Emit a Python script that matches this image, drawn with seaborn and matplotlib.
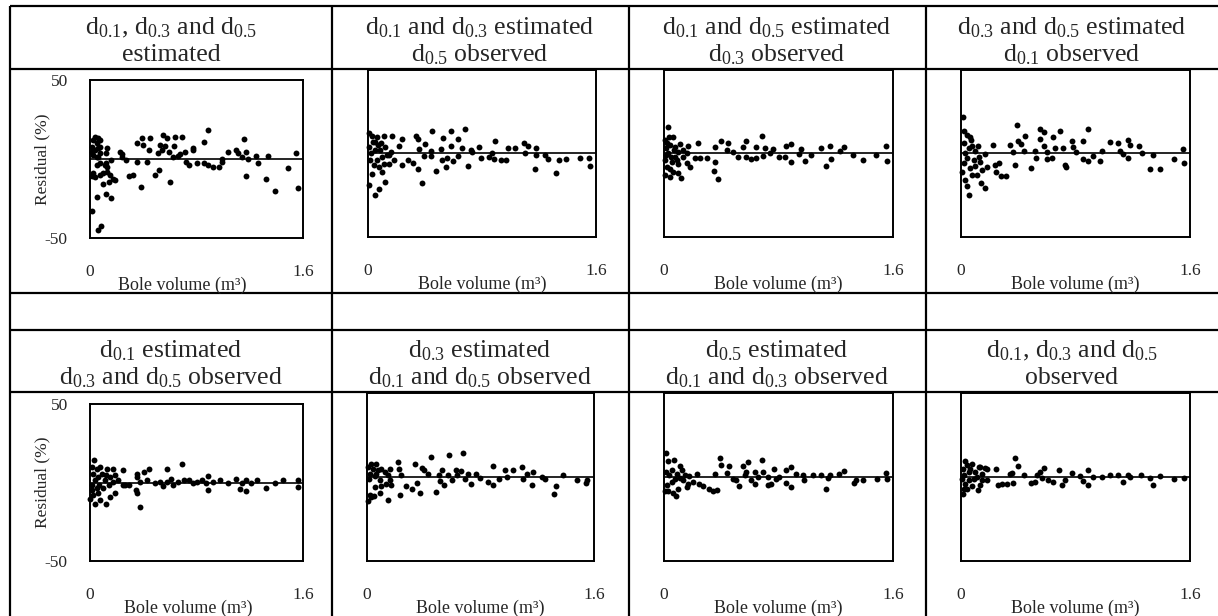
import numpy as np
import pandas as pd
import matplotlib
matplotlib.use("Agg")
import matplotlib.pyplot as plt
import seaborn as sns

# ---------------------------------------------------------------------------
# Data: bole volume (m3) vs residual (%)
# ---------------------------------------------------------------------------
vol_1 = [0.89, 0.86, 1.16, 0.55, 0.39, 0.45, 0.69, 0.64, 0.575, 0.35,
         0.40, 0.525, 0.56, 0.63, 0.44, 0.51, 0.54, 0.59, 0.675, 0.71,
         0.77, 0.775, 0.66, 0.625, 0.72, 0.74, 0.80, 0.86, 0.89, 0.925,
         0.97, 0.99, 0.99, 1.04, 1.10, 1.11, 1.14, 1.175, 1.19, 1.175,
         1.245, 1.26, 1.34, 1.32, 1.39, 1.49, 1.55, 1.56, 0.60, 0.49,
         0.52, 0.38, 0.29, 0.325, 0.24, 0.27, 0.35, 0.425, 0.225, 0.24,
         0.16, 0.175, 0.19, 0.16, 0.12, 0.05, 0.012, 0.057, 0.08, 0.10,
         0.14, 0.15, 0.125, 0.11, 0.125, 0.12, 0.075, 0.05, 0.075, 0.04,
         0.012, 0.025, 0.10, 0.12, 0.13, 0.075, 0.037, 0.06, 0.025, 0.05,
         0.012, 0.037, 0.062, 0.075, 0.025, 0.05, 0.012, 0.075, 0.062]
res_1 = [18.3, 11.0, 12.4, 15.0, 13.5, 13.0, 14.0, 13.7, 13.0, 10.0,
         9.0, 9.0, 8.0, 8.0, 6.0, 3.6, 5.7, 4.6, 3.0, 4.6,
         6.7, 5.7, 1.9, 1.5, -2.0, -3.8, -2.7, -2.7, -3.8, -5.3,
         -5.3, -1.7, 0.0, 4.6, 5.7, 3.6, 1.5, 4.6, 0.0, -10.5,
         2.1, -2.7, 1.9, -12.8, -20.0, -5.9, 3.6, -18.5, -14.3, -10.0,
         -7.0, -17.5, -10.7, -10.0, 1.5, -0.6, -2.0, -1.7, 4.6, 3.0,
         -0.6, -12.6, -13.3, -24.8, -22.0, -23.8, -32.6, -44.8, -42.3, -16.0,
         -14.3, -10.0, -8.0, -3.8, -4.8, -2.7, -2.7, -3.8, -10.0, -11.2,
         -10.7, -9.0, -9.0, 4.0, 6.7, 12.0, 14.0, 13.0, 12.0, 10.0,
         7.8, 5.7, 6.7, 3.6, 2.5, 1.5, 4.6, 7.8, 1.5]

vol_2 = [0.68, 0.58, 0.45, 0.525, 0.635, 0.34, 0.35, 0.24, 0.17, 0.11,
         0.06, 0.01, 0.03, 0.05, 0.09, 0.12, 0.16, 0.22, 0.40, 0.355,
         0.44, 0.51, 0.58, 0.66, 0.72, 0.78, 0.87, 0.89, 0.98, 1.03,
         1.095, 1.125, 1.18, 1.10, 1.18, 1.24, 1.26, 1.34, 1.39, 1.49,
         1.55, 1.56, 1.32, 1.17, 0.97, 0.93, 0.885, 0.85, 0.795, 0.73,
         0.705, 0.635, 0.595, 0.555, 0.52, 0.55, 0.48, 0.44, 0.39, 0.35,
         0.315, 0.28, 0.24, 0.38, 0.18, 0.145, 0.10, 0.12, 0.08, 0.05,
         0.005, 0.03, 0.04, 0.015, 0.06, 0.10, 0.13, 0.02, 0.05, 0.01,
         0.085, 0.145, 0.11, 0.075, 0.035, 0.07]
res_2 = [14.6, 13.4, 13.4, 9.0, 8.4, 10.4, 8.6, 8.6, 10.6, 10.4,
         9.6, 12.0, 10.4, 7.0, 6.0, 4.0, 1.0, 4.6, 5.4, 2.6,
         1.4, 2.4, 4.4, 3.0, 2.0, 3.6, 0.0, 7.6, 3.4, 3.4,
         6.4, 4.4, 3.4, 0.0, -0.6, -0.6, -3.4, -3.6, -3.0, -2.4,
         -2.6, -7.2, -11.8, -9.4, -3.6, -3.6, -3.4, -2.0, -2.6, 0.8,
         -7.2, -1.4, -4.4, -2.4, -3.6, -8.0, -10.2, -1.6, -1.4, -9.4,
         -5.6, -3.6, -7.0, -17.8, -3.6, -6.4, -11.0, -17.0, -21.0, -25.0,
         -19.0, -12.0, -7.0, -4.0, -3.6, -2.0, -0.6, 0.0, 2.0, 4.0,
         2.0, -1.0, -6.0, -8.0, 7.0, 5.0]

vol_3 = [0.025, 0.007, 0.06, 0.11, 0.17, 0.235, 0.355, 0.40, 0.45, 0.44,
         0.55, 0.575, 0.685, 0.645, 0.705, 0.76, 0.855, 0.89, 0.96, 1.10,
         1.16, 1.26, 1.32, 1.39, 1.48, 1.55, 1.555, 1.135, 1.165, 1.23,
         1.03, 0.985, 0.94, 0.885, 0.845, 0.80, 0.74, 0.69, 0.645, 0.61,
         0.575, 0.52, 0.485, 0.38, 0.35, 0.355, 0.30, 0.25, 0.215, 0.18,
         0.16, 0.12, 0.10, 0.065, 0.04, 0.007, 0.02, 0.055, 0.09, 0.135,
         0.03, 0.07, 0.015, 0.10, 0.04, 0.13, 0.077, 0.007, 0.16, 0.02,
         0.05, 0.035, 0.08, 0.045, 0.10, 0.015]
res_3 = [15.6, 8.2, 9.6, 5.8, 4.6, 6.2, 3.8, 7.2, 6.2, 2.2,
         3.8, 7.2, 10.2, 3.6, 3.2, 2.6, 4.2, 5.8, 2.6, 3.2,
         4.2, 3.6, -0.8, -3.8, -0.8, 4.2, -4.4, -7.4, -3.4, 1.2,
         -0.8, -4.4, -0.4, -4.8, -1.8, -2.2, 0.2, -1.4, -2.8, -3.2,
         -2.2, -1.8, 0.6, -15.2, -10.4, -4.8, -2.8, -2.4, -2.8, -8.2,
         -5.8, -14.8, -11.8, -10.8, -13.8, -12.8, -7.8, -4.8, -3.8, -1.8,
         0.2, 2.2, 3.2, 0.6, 5.2, 2.2, -1.8, -3.8, 0.2, 6.0,
         -2.0, 10.0, 4.0, -9.0, -6.0, -1.0]

vol_4 = [0.014, 0.39, 0.555, 0.58, 0.69, 0.89, 0.45, 0.40, 0.55, 0.645,
         0.775, 0.855, 1.04, 1.10, 1.165, 1.18, 1.245, 1.55, 0.345, 0.42,
         0.58, 0.66, 0.715, 0.785, 0.985, 0.44, 0.36, 0.52, 0.60, 0.635,
         0.60, 0.525, 0.80, 0.925, 0.855, 0.89, 0.97, 1.11, 1.135, 1.17,
         1.265, 1.34, 1.49, 1.555, 1.32, 1.39, 0.725, 0.735, 0.49, 0.38,
         0.315, 0.28, 0.245, 0.24, 0.265, 0.225, 0.17, 0.12, 0.18, 0.145,
         0.17, 0.14, 0.11, 0.077, 0.053, 0.042, 0.026, 0.01, 0.019, 0.042,
         0.088, 0.123, 0.03, 0.053, 0.019, 0.07, 0.042, 0.06, 0.023, 0.077,
         0.10, 0.135, 0.10, 0.065]
res_4 = [21.8, 16.8, 14.8, 12.8, 13.6, 14.6, 10.6, 7.6, 8.6, 9.6,
         7.6, 7.6, 6.6, 6.2, 8.2, 4.8, 4.2, 2.8, 4.8, 5.6,
         4.6, 3.2, 3.2, 3.6, 1.6, 1.6, 0.6, 1.6, 0.6, -2.4,
         -3.2, -2.8, 0.6, -1.2, -3.2, -4.4, -4.4, 1.2, -0.4, -2.8,
         0.2, -0.8, -3.4, -5.8, -9.2, -9.2, -6.8, -8.2, -8.4, -6.8,
         -13.2, -13.2, -11.2, -6.8, -5.4, 4.8, -0.4, 4.6, -7.8, -9.8,
         -20.8, -17.8, -12.8, -12.8, -24.8, -19.2, -15.8, -10.8, -5.8, -2.8,
         -3.8, -1.8, 0.2, 3.2, 6.2, 8.2, 11.2, 9.8, 13.2, 4.2,
         1.2, -4.8, -7.4, -8.8]

vol_5 = [0.03, 0.69, 0.58, 0.245, 0.35, 0.405, 0.35, 0.44, 0.375, 0.425,
         0.49, 0.525, 0.55, 0.575, 0.61, 0.625, 0.66, 0.705, 0.74, 0.77,
         0.80, 0.84, 0.89, 0.875, 0.89, 0.925, 0.975, 1.04, 1.10, 1.14,
         1.175, 1.125, 1.17, 1.21, 1.255, 1.325, 1.39, 1.45, 1.56, 1.56,
         0.375, 0.35, 0.345, 0.29, 0.19, 0.245, 0.12, 0.04, 0.075, 0.15,
         0.003, 0.025, 0.06, 0.10, 0.14, 0.175, 0.19, 0.17, 0.125, 0.075,
         0.05, 0.012, 0.025, 0.06, 0.09, 0.04, 0.012, 0.07, 0.11, 0.05,
         0.012, 0.12, 0.15, 0.21, 0.26]
res_5 = [14.2, 11.7, 8.5, 7.9, 5.7, 6.8, 3.6, 8.9, 0.4, 1.5,
         -0.6, 0.4, -2.3, 0.4, 2.5, -1.7, 0.4, 1.5, 1.9, -0.2,
         0.4, 1.5, 4.2, -0.2, -4.5, 0.4, 1.5, 0.0, 2.1, -0.2,
         1.5, -4.2, -5.5, -0.6, 1.5, -3.2, -0.6, 1.5, 1.5, -2.8,
         -15.5, -6.6, -4.9, -1.7, -6.4, -1.3, -14.0, -13.8, -11.3, -9.1,
         -10.8, -8.1, -6.6, -3.8, -1.7, 0.4, 4.7, 8.5, 8.9, 10.0,
         8.9, 10.0, 5.7, 3.6, 5.7, 1.5, -1.7, -1.7, 1.5, -3.8,
         -4.9, 4.7, 3.6, 1.5, -1.7]

vol_6 = [0.68, 0.58, 0.45, 0.22, 0.335, 0.39, 0.40, 0.53, 0.625, 0.665,
         0.885, 0.975, 1.03, 1.09, 1.17, 1.13, 1.385, 1.48, 1.55, 1.545,
         1.33, 1.315, 1.255, 1.235, 1.165, 1.10, 0.985, 0.93, 0.885, 0.855,
         0.795, 0.77, 0.715, 0.735, 0.69, 0.635, 0.60, 0.57, 0.54, 0.515,
         0.51, 0.485, 0.43, 0.375, 0.35, 0.315, 0.275, 0.24, 0.235, 0.225,
         0.165, 0.17, 0.145, 0.09, 0.047, 0.03, 0.007, 0.02, 0.055, 0.10,
         0.135, 0.09, 0.055, 0.02, 0.007, 0.03, 0.06, 0.10, 0.125, 0.15,
         0.16, 0.08, 0.04, 0.015, 0.065]
res_6 = [14.3, 13.3, 11.9, 8.9, 7.9, 5.6, 4.4, 4.4, 4.4, 3.6,
         6.3, 4.4, 4.0, 6.0, 3.0, 2.0, 1.0, -1.6, -1.6, -3.6,
         -5.6, -10.3, -1.0, 0.0, -5.0, -1.0, 0.0, -1.0, -4.6, -3.0,
         -0.4, 2.0, 1.6, -4.4, -1.0, 1.0, -2.0, 1.0, -5.0, -2.4,
         1.0, -8.9, 2.0, -9.5, -3.6, -6.9, -5.6, 1.0, -10.9, 5.0,
         5.0, -5.0, -13.5, -9.5, -11.5, -11.9, -14.5, -10.9, -6.0, -5.6,
         -4.0, -2.0, 0.4, 2.0, 6.0, 7.5, 8.0, 5.0, 3.0, 1.0,
         -2.0, 4.0, 5.0, -1.0, 2.0]

vol_7 = [0.012, 0.03, 0.07, 0.11, 0.39, 0.40, 0.455, 0.55, 0.585, 0.685,
         0.77, 0.89, 0.855, 1.26, 1.55, 0.23, 0.355, 0.44, 0.575, 0.635,
         0.69, 0.565, 0.66, 0.73, 0.80, 0.925, 0.97, 1.04, 1.10, 1.16,
         1.225, 1.145, 1.34, 1.39, 1.485, 1.555, 1.33, 1.135, 0.98, 0.885,
         0.855, 0.78, 0.73, 0.745, 0.635, 0.61, 0.525, 0.485, 0.505, 0.37,
         0.345, 0.315, 0.275, 0.245, 0.20, 0.17, 0.16, 0.135, 0.095, 0.085,
         0.06, 0.03, 0.007, 0.02, 0.055, 0.077, 0.037, 0.014, 0.053, 0.088,
         0.123, 0.177, 0.147, 0.11]
res_7 = [14.3, 9.3, 10.3, 6.3, 11.3, 6.9, 6.3, 6.3, 8.9, 10.3,
         4.6, 6.0, 4.0, 3.4, 2.4, 2.0, 2.0, 2.6, 3.0, 3.0,
         3.0, 1.0, 0.0, 0.0, 0.0, 1.6, 1.0, 1.0, 1.0, 1.0,
         2.0, -0.4, -2.0, -2.0, -1.0, -1.0, -3.4, -7.0, -2.0, -6.0,
         -3.6, -1.0, -4.6, -4.4, -4.0, -2.0, -5.4, -1.0, -2.0, -8.0,
         -8.3, -7.0, -5.6, -4.4, -3.0, -4.0, -6.0, -2.0, -7.0, -11.5,
         -9.5, -8.3, -8.3, -5.0, -3.0, -1.0, 1.0, 3.0, 4.0, 2.0,
         4.0, 0.4, 1.0, -0.4]

vol_8 = [0.03, 0.077, 0.123, 0.38, 0.40, 0.355, 0.345, 0.245, 0.17, 0.44,
         0.58, 0.55, 0.685, 0.775, 0.89, 0.83, 0.925, 0.985, 1.04, 1.10,
         1.17, 1.18, 1.26, 1.32, 1.39, 1.485, 1.555, 1.34, 1.13, 0.885,
         0.85, 0.705, 0.73, 0.645, 0.61, 0.565, 0.52, 0.49, 0.53, 0.36,
         0.32, 0.285, 0.26, 0.185, 0.15, 0.12, 0.135, 0.077, 0.042, 0.012,
         0.019, 0.03, 0.053, 0.088, 0.007, 0.023, 0.053, 0.10, 0.147, 0.18,
         0.065, 0.014, 0.11, 0.042, 0.135]
res_8 = [9.3, 7.9, 6.0, 11.5, 6.3, 2.4, 1.6, 5.0, 5.4, 1.0,
         5.4, 3.0, 4.0, 2.6, 4.0, 0.4, 0.0, 0.0, 1.0, 1.0,
         1.0, 0.0, 1.0, -0.4, 0.6, -1.0, -0.6, -4.6, -3.0, -5.0,
         -2.4, -5.0, -2.0, -3.0, -1.6, -0.4, -3.0, -3.6, 1.0, -3.6,
         -4.4, -4.4, -4.6, -2.0, -2.0, -8.0, -5.0, -5.6, -7.0, -10.0,
         -7.0, -4.0, -2.0, -1.0, -1.0, 1.0, 3.0, 3.0, 2.0, 5.0,
         5.0, 5.0, 0.0, 7.0, 6.0]

# header of each panel: (first line, second line)
headers = [
    ("d$_{\\mathrm{0.1}}$, d$_{\\mathrm{0.3}}$ and d$_{\\mathrm{0.5}}$", "estimated"),
    ("d$_{\\mathrm{0.1}}$ and d$_{\\mathrm{0.3}}$ estimated", "d$_{\\mathrm{0.5}}$ observed"),
    ("d$_{\\mathrm{0.1}}$ and d$_{\\mathrm{0.5}}$ estimated", "d$_{\\mathrm{0.3}}$ observed"),
    ("d$_{\\mathrm{0.3}}$ and d$_{\\mathrm{0.5}}$ estimated", "d$_{\\mathrm{0.1}}$ observed"),
    ("d$_{\\mathrm{0.1}}$ estimated", "d$_{\\mathrm{0.3}}$ and d$_{\\mathrm{0.5}}$ observed"),
    ("d$_{\\mathrm{0.3}}$ estimated", "d$_{\\mathrm{0.1}}$ and d$_{\\mathrm{0.5}}$ observed"),
    ("d$_{\\mathrm{0.5}}$ estimated", "d$_{\\mathrm{0.1}}$ and d$_{\\mathrm{0.3}}$ observed"),
    ("d$_{\\mathrm{0.1}}$, d$_{\\mathrm{0.3}}$ and d$_{\\mathrm{0.5}}$", "observed"),
]

xticks = [0, 1.6]
xtick_labels = ["0", "1.6"]
yticks = [-50, 50]
ytick_labels = ["-50", "50"]

vols = [vol_1, vol_2, vol_3, vol_4, vol_5, vol_6, vol_7, vol_8]
ress = [res_1, res_2, res_3, res_4, res_5, res_6, res_7, res_8]
df = pd.concat(
    [pd.DataFrame({"panel": k, "vol": v, "res": r})
     for k, (v, r) in enumerate(zip(vols, ress))],
    ignore_index=True,
)

# ---------------------------------------------------------------------------
# Style
# ---------------------------------------------------------------------------
sns.set_style("white")
plt.rcParams["font.family"] = ["Liberation Serif", "DejaVu Serif"]
plt.rcParams["mathtext.fontset"] = "custom"
plt.rcParams["mathtext.rm"] = "Liberation Serif"
plt.rcParams["mathtext.it"] = "Liberation Serif:italic"

W, H = 1218, 616
fig = plt.figure(figsize=(W / 100, H / 100), dpi=100)
fig.patch.set_facecolor("white")

# table frame drawn in pixel coordinates
tab = fig.add_axes([0, 0, 1, 1], zorder=0)
tab.set_xlim(0, W)
tab.set_ylim(H, 0)
tab.axis("off")
tab.hlines([6, 69, 293, 330, 392], 10, W, color="black", lw=1.6)
tab.vlines([10, 332, 629, 926], 6, H, color="black", lw=1.6)

col_centers = [171, 480, 777, 1072]
header_y = [(28, 55), (351, 378)]

# panel boxes (left, top, right, bottom) in pixels
boxes = [(90, 80, 303, 238), (368, 70, 596, 237), (664, 70, 893, 237), (961, 70, 1190, 237),
         (90, 404, 303, 561), (367, 393, 594, 561), (664, 393, 893, 561), (961, 393, 1190, 561)]

for k in range(8):
    row, col = divmod(k, 4)
    l, t, r, b = boxes[k]
    ax = fig.add_axes([l / W, 1 - b / H, (r - l) / W, (b - t) / H], zorder=1)
    ax.set_facecolor("none")

    sns.scatterplot(data=df[df["panel"] == k], x="vol", y="res", ax=ax,
                    color="black", s=18, linewidth=0, clip_on=False, legend=False)
    ax.axhline(0, color="black", lw=1.2, zorder=1)

    ax.set_xlim(0, 1.6)
    ax.set_ylim(-50, 50)
    for sp in ax.spines.values():
        sp.set_visible(True)
        sp.set_color("black")
        sp.set_linewidth(1.4)

    ax.set_xticks(xticks)
    ax.set_xticklabels(xtick_labels)
    ax.tick_params(axis="x", length=0, pad=19, labelsize=12.5)
    ax.set_xlabel("Bole volume (m³)", fontsize=13)
    xl = (182 - l) / (r - l) if col == 0 and row == 0 else ((188 - l) / (r - l) if col == 0 else 0.5)
    ax.xaxis.set_label_coords(xl, -(39 / (b - t)))

    if col == 0:
        ax.set_yticks(yticks)
        ax.set_yticklabels(ytick_labels)
        ax.tick_params(axis="y", length=0, pad=16, labelsize=12.5)
        ax.set_ylabel("Residual (%)", fontsize=12.5)
        ax.yaxis.set_label_coords(-(40 / (r - l)), 0.5)
    else:
        ax.set_yticks([])
        ax.set_ylabel("")

    cx = col_centers[col]
    y1, y2 = header_y[row]
    tab.text(cx, y1, headers[k][0], ha="center", va="center", fontsize=18.5)
    tab.text(cx, y2, headers[k][1], ha="center", va="center", fontsize=18.5)

fig.savefig("out.png", dpi=100)
